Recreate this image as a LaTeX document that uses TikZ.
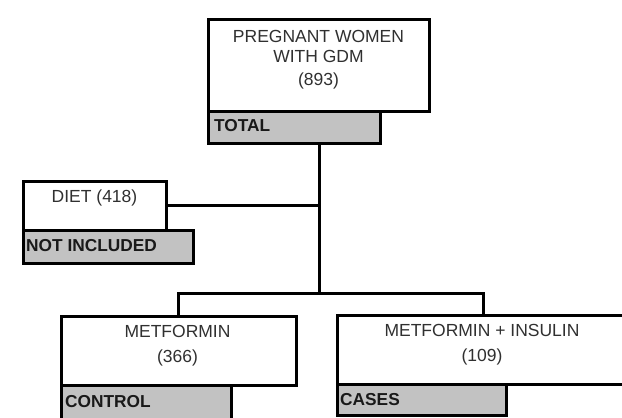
\documentclass[tikz,border=0pt]{standalone}
\usepackage{fontspec}
\setmainfont{Liberation Sans}
\begin{document}
\begin{tikzpicture}[x=1pt,y=-1pt,
  box/.style={draw=black, line width=3pt, fill=white, inner sep=0pt, minimum width=#1},
  tagbox/.style={draw=black, line width=3pt, fill=tagfill, inner sep=0pt, minimum width=#1},
  txt/.style={inner sep=0pt, text=txtgray, font=\fontsize{17.5}{20}\selectfont, align=center},
  tag/.style={inner sep=0pt, text=black!90, anchor=west, font=\fontsize{17.3}{20}\selectfont\bfseries},
  link/.style={draw=black, line width=3pt}]
\definecolor{tagfill}{RGB}{194,194,194}
\definecolor{txtgray}{RGB}{48,48,48}
\path[use as bounding box, fill=white] (0,0) rectangle (622,418);
\clip (0,0) rectangle (622,418);
% boxes
\node[box=221pt, minimum height=92pt] (top) at (318.5,65) {};
\node[tagbox=172pt, minimum height=32pt] (total) at (294,127) {};
\node[box=143pt, minimum height=49pt] (diet) at (94.5,205.5) {};
\node[tagbox=170pt, minimum height=33pt] (notinc) at (108,246.5) {};
\node[box=235pt, minimum height=69pt] (met) at (178.5,350.5) {};
\node[tagbox=170pt, minimum height=40pt] (control) at (146,405) {};
\node[box=303pt, minimum height=69pt] (metins) at (488.5,349.5) {};
\node[tagbox=169pt, minimum height=31pt] (cases) at (421.5,399.5) {};
% texts
\node[txt] (toptxt) at (318.5,59.5) {PREGNANT WOMEN\\WITH GDM\\[3.5pt](893)};
\node[txt] (diettxt) at (94.5,198) {DIET (418)};
\node[txt] (mettxt) at (177.5,345.8) {METFORMIN\\[4.6pt](366)};
\node[txt] (metinstxt) at (482,344.5) {METFORMIN + INSULIN\\[5.3pt](109)};
\node[tag] (totaltxt) at (214,126) {TOTAL};
\node[tag] (notinctxt) at (26,246) {NOT INCLUDED};
\node[tag] (controltxt) at (65,402) {CONTROL};
\node[tag] (casestxt) at (340,400) {CASES};
% connectors
\coordinate (trunktop) at (319,143);
\coordinate (junction) at (319,293);
\coordinate (rightdrop) at (483,315);
\draw[link] (trunktop) -- (junction);
\draw[link] (diet.east) -- (diet.east -| junction);
\draw[link] (met.north) |- (junction) -| (rightdrop);
\end{tikzpicture}
\end{document}
